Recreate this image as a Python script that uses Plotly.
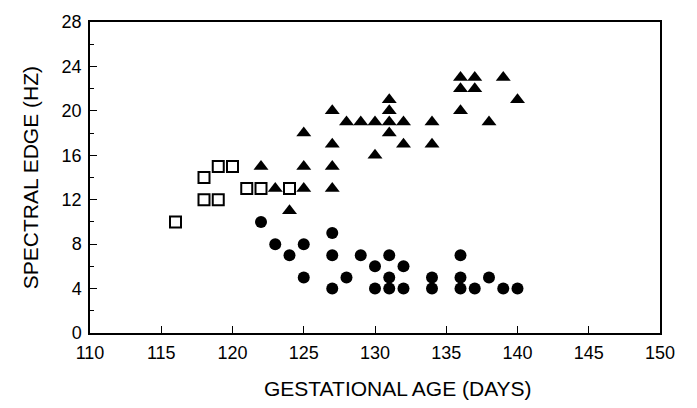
import plotly.graph_objects as go

# Open squares
sq_x = [116, 118, 118, 119, 119, 120, 121, 122, 124]
sq_y = [10, 14, 12, 15, 12, 15, 13, 13, 13]

# Filled triangles
tri_x = [122, 123, 124, 125, 125, 125, 127, 127, 127, 127, 128, 129, 130, 130, 131,
         131, 131, 131, 132, 132, 134, 134, 136, 136, 136, 137, 137, 138, 139, 140]
tri_y = [15, 13, 11, 13, 15, 18, 13, 15, 17, 20, 19, 19, 16, 19, 18,
         19, 20, 21, 17, 19, 17, 19, 20, 22, 23, 22, 23, 19, 23, 21]

# Filled circles
cir_x = [122, 123, 124, 125, 125, 127, 127, 127, 128, 129, 130, 130, 131, 131, 131,
         132, 132, 134, 134, 136, 136, 136, 137, 138, 139, 140]
cir_y = [10, 8, 7, 8, 5, 9, 7, 4, 5, 7, 6, 4, 7, 5, 4,
         6, 4, 5, 4, 7, 5, 4, 4, 5, 4, 4]

x_ticks = [110, 115, 120, 125, 130, 135, 140, 145, 150]
y_ticks = [0, 4, 8, 12, 16, 20, 24, 28]
y_minor = [2, 6, 10, 14, 18, 22, 26]

x_title = "GESTATIONAL AGE (DAYS)"
y_title = "SPECTRAL EDGE (HZ)"

fig = go.Figure()
fig.add_trace(go.Scatter(x=sq_x, y=sq_y, mode="markers",
                         marker=dict(symbol="square-open", size=11, color="black",
                                     line=dict(width=2, color="black"))))
fig.add_trace(go.Scatter(x=tri_x, y=tri_y, mode="markers",
                         marker=dict(symbol="triangle-up", size=13, color="black")))
fig.add_trace(go.Scatter(x=cir_x, y=cir_y, mode="markers",
                         marker=dict(symbol="circle", size=12, color="black")))

font = "Liberation Sans, Arial, sans-serif"
fig.update_layout(
    width=697, height=408,
    margin=dict(l=90, r=37, t=16, b=75),
    paper_bgcolor="white", plot_bgcolor="white",
    showlegend=False,
    font=dict(family=font, color="#000000", size=18),
    annotations=[
        dict(text=x_title, xref="paper", yref="paper", x=0.54, y=-0.135,
             xanchor="center", yanchor="top", showarrow=False,
             font=dict(size=21, family=font, color="#000000")),
        dict(text=y_title, xref="paper", yref="paper", x=-0.104, y=0.5,
             xanchor="center", yanchor="middle", textangle=-90, showarrow=False,
             font=dict(size=21, family=font, color="#000000")),
    ],
)
fig.update_xaxes(
    range=[110, 150], tickvals=x_ticks, ticktext=[str(v) for v in x_ticks],
    showline=True, linecolor="black", linewidth=1.5, mirror=True,
    ticks="inside", ticklen=7, tickwidth=1.2, tickcolor="black",
    showgrid=False, zeroline=False,
    tickfont=dict(size=18, family=font),
    ticklabelstandoff=3,
)
fig.update_yaxes(
    range=[0, 28], tickvals=y_ticks, ticktext=[str(v) for v in y_ticks],
    showline=True, linecolor="black", linewidth=1.5, mirror=True,
    ticks="inside", ticklen=7, tickwidth=1.2, tickcolor="black",
    minor=dict(tickvals=y_minor, ticks="inside", ticklen=4,
               tickcolor="black", tickwidth=1),
    showgrid=False, zeroline=False,
    tickfont=dict(size=18, family=font),
    ticklabelstandoff=3,
)

fig.write_html("out.html")
